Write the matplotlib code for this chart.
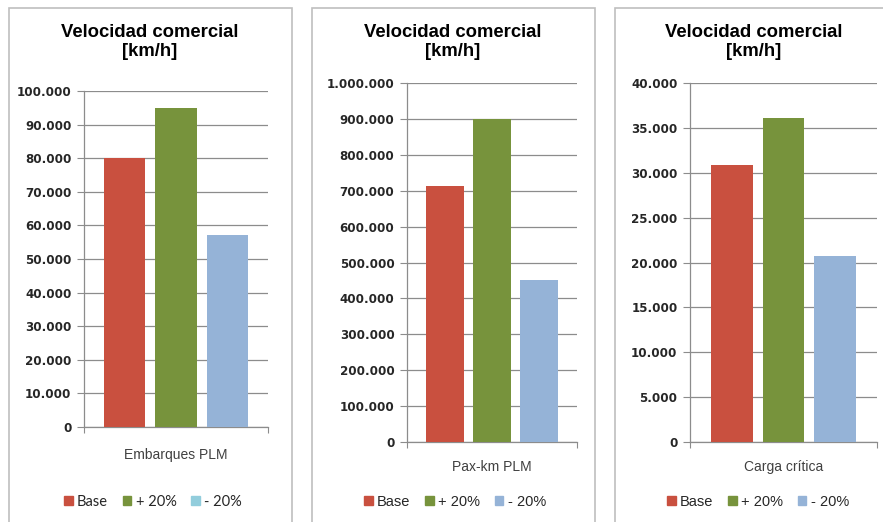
import matplotlib.pyplot as plt
import numpy as np
from matplotlib.patches import Rectangle
from matplotlib.ticker import FuncFormatter

# values
series = ['Base', '+ 20%', '- 20%']
categories = ['Embarques PLM', 'Pax-km PLM', 'Carga crítica']
embarques = [80000, 95000, 57000]
paxkm = [712000, 901000, 450000]
carga = [30900, 36050, 20700]
ymax = [100000, 1000000, 40000]
ystep = [10000, 100000, 5000]

colors = ['#C9503F', '#77933C', '#95B3D7']
legend_colors = [['#C9503F', '#77933C', '#92CDDC'], colors, colors]

W, H = 883, 522
fig = plt.figure(figsize=(W / 100, H / 100), dpi=100)
plt.rcParams['font.family'] = ['Liberation Sans', 'DejaVu Sans']


def fx(px):
    return px / W


def fy(py):
    return 1 - py / H


def thousands(v, pos):
    return f"{int(round(v)):,}".replace(",", ".")


# pixel layout: (frame left, frame right, axes left, axes right, axes top, axes bottom, cat label y)
layout = [
    (9, 292, 84, 268, 91, 427, 455),
    (312, 595, 407, 577, 83, 442, 467),
    (615, 895, 690, 877, 83, 442, 467),
]
pad = [0.79, 0.81, 0.815]
title_x = [150, 453, 754]
legend_x = [153, 455, 758]

data = [embarques, paxkm, carga]

for i, (fl, fr, al, ar, at, ab, cy) in enumerate(layout):
    # panel frame
    fig.patches.append(Rectangle((fx(fl), fy(H + 5)), fx(fr - fl), fy(8) - fy(H + 5),
                                 transform=fig.transFigure, fill=False,
                                 edgecolor='#BFBFBF', linewidth=1.2))
    ax = fig.add_axes([fx(al), fy(ab), fx(ar - al), fy(at) - fy(ab)])
    x = np.arange(3)
    ax.bar(x, data[i], width=0.8, color=colors, zorder=3)
    ax.set_xlim(-pad[i], 2 + pad[i])
    ax.set_ylim(0, ymax[i])
    ax.set_yticks(np.arange(0, ymax[i] + 1, ystep[i]))
    ax.yaxis.set_major_formatter(FuncFormatter(thousands))
    ax.grid(axis='y', color='#8C8C8C', linewidth=0.9, zorder=0)
    ax.set_xticks([-pad[i], 2 + pad[i]])
    ax.set_xticklabels(['', ''])
    ax.tick_params(axis='x', length=4, color='#8C8C8C')
    ax.tick_params(axis='y', length=5, color='#8C8C8C', labelcolor='#262626', pad=4)
    for lab in ax.get_yticklabels():
        lab.set_fontfamily('DejaVu Sans')
        lab.set_fontweight('bold')
        lab.set_fontsize(8.6)
    for s in ['top', 'right']:
        ax.spines[s].set_visible(False)
    for s in ['left', 'bottom']:
        ax.spines[s].set_color('#8C8C8C')
        ax.spines[s].set_linewidth(0.9)

    fig.text(fx(title_x[i]), fy(42), 'Velocidad comercial\n[km/h]', ha='center', va='center',
             fontsize=13.3, fontweight='bold', linespacing=1.2)
    fig.text(fx((al + ar) / 2), fy(cy), categories[i], ha='center', va='center',
             fontsize=10, color='#404040')

    handles = [Rectangle((0, 0), 1, 1, color=c) for c in legend_colors[i]]
    leg_font = {'family': ['Lato', 'DejaVu Sans'], 'size': 10.5} if i == 0 else {'size': 10.5}
    fig.legend(handles, series, loc='center', bbox_to_anchor=(fx(legend_x[i]), fy(502)),
               ncol=3, frameon=False, prop=leg_font, handlelength=0.6, handleheight=0.6,
               handletextpad=0.3, columnspacing=1.0, labelcolor='#262626')

fig.savefig('out.png', dpi=100)
